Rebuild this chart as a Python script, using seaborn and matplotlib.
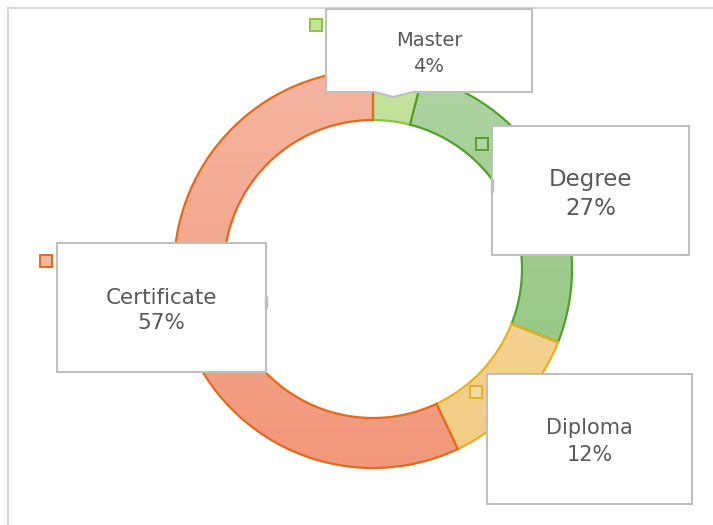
import numpy as np
import matplotlib
matplotlib.use("Agg")
import matplotlib.pyplot as plt
import seaborn as sns
from matplotlib.patches import Rectangle, Polygon
from matplotlib.colors import LinearSegmentedColormap

# ---- data ----
categories = ["Master", "Degree", "Diploma", "Certificate"]
values = [4, 27, 12, 57]

# ---- styles ----
fill_top = ["#C3E39B", "#AFD4A2", "#F6DBA4", "#F4B5A1"]
fill_bottom = ["#ADD981", "#8DC47B", "#F2CC84", "#F2977A"]
edge_colors = ["#8CC43C", "#52A02A", "#E6B21F", "#E5691A"]
text_color = "#595959"

sns.set_theme(style="white")
plt.rcParams['font.family'] = ['DejaVu Sans']

W, H = 713, 525
fig = plt.figure(figsize=(W / 100, H / 100), dpi=100)
ax = fig.add_axes([0, 0, 1, 1])
ax.set_axis_off()

def Y(y):
    return H - y

cx, cy, R, ring = 373, Y(269), 199, 50

wedges, _ = ax.pie(values, startangle=90, counterclock=False,
                   radius=R, center=(cx, cy),
                   wedgeprops=dict(width=ring, linewidth=1.6, zorder=3),
                   frame=True)
grad = np.linspace(0, 1, 256)[:, None]
for w, top, bot, ec in zip(wedges, fill_top, fill_bottom, edge_colors):
    w.set_facecolor("none")
    w.set_edgecolor(ec)
    cmap = LinearSegmentedColormap.from_list("g", [bot, top])
    img = ax.imshow(grad, cmap=cmap, origin="lower", aspect="auto",
                    extent=[cx - R, cx + R, cy - R, cy + R], zorder=2)
    img.set_clip_path(w)

ax.set_xlim(0, W)
ax.set_ylim(0, H)
ax.set_aspect("auto")

# chart frame (top and left visible)
ax.plot([8, W], [Y(8), Y(8)], color="#D9D9D9", lw=1.5, zorder=1)
ax.plot([8, 8], [Y(8), 0], color="#D9D9D9", lw=1.5, zorder=1)

# ---- label boxes (layout) ----
boxes = {
    "Master": (326, 9, 532, 92),
    "Degree": (492, 126, 689, 255),
    "Diploma": (487, 374, 692, 504),
    "Certificate": (57, 243, 266, 372),
}
baselines = {
    "Master": (46, 72, 14),
    "Degree": (186, 215, 16.5),
    "Diploma": (434, 461, 15),
    "Certificate": (304, 329, 15.5),
}
squares = {
    "Master": (316, 25),
    "Degree": (482, 143.5),
    "Diploma": (476, 391.5),
    "Certificate": (46, 261),
}
box_ec = "#BFBFBF"
total = sum(values)
for i, (cat, v) in enumerate(zip(categories, values)):
    x0, y0, x1, y1 = boxes[cat]
    if cat == "Master":
        pts = [(x0, y0), (x1, y0), (x1, y1), (413, y1), (393, 97), (375, y1), (x0, y1)]
        poly = Polygon([(x, Y(y)) for x, y in pts], closed=True,
                       facecolor="white", edgecolor=box_ec, lw=1.5, zorder=5)
        ax.add_patch(poly)
    else:
        ax.add_patch(Rectangle((x0, Y(y1)), x1 - x0, y1 - y0, facecolor="white",
                               edgecolor=box_ec, lw=1.5, zorder=5))
    xc = (x0 + x1) / 2
    b1, b2, fs = baselines[cat]
    ax.text(xc, Y(b1), cat, ha="center", va="baseline", fontsize=fs,
            color=text_color, zorder=6)
    ax.text(xc, Y(b2), f"{v / total * 100:.0f}%", ha="center", va="baseline",
            fontsize=fs, color=text_color, zorder=6)
    sx, sy = squares[cat]
    ax.add_patch(Rectangle((sx - 6, Y(sy) - 6), 12, 12,
                           facecolor=fill_top[i], edgecolor=edge_colors[i],
                           lw=1.4, zorder=6))

# small leader stubs
ax.plot([266, 266], [Y(297), Y(307)], color="#BFBFBF", lw=2.5, zorder=6)
ax.plot([492, 492], [Y(180), Y(191)], color="#BFBFBF", lw=2.5, zorder=6)

fig.savefig("out.png", dpi=100)
